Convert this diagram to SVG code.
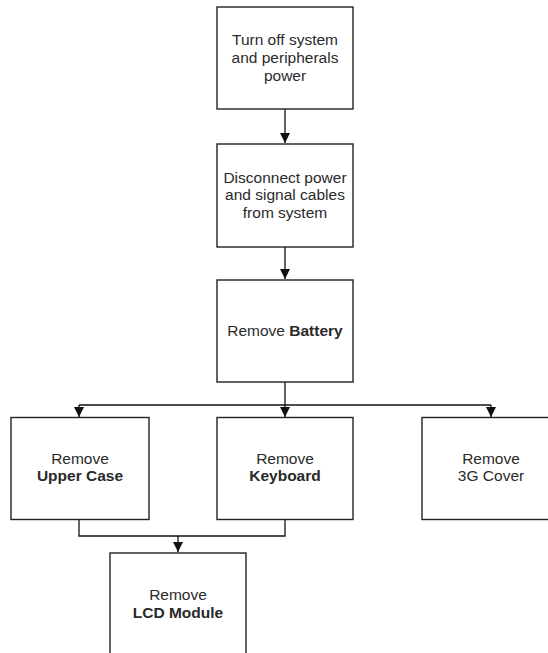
<svg xmlns="http://www.w3.org/2000/svg" width="548" height="653" viewBox="0 0 548 653">
<style>
.box{fill:#fff;stroke:#222;stroke-width:1.4}
.t{font-family:"Liberation Sans",Arial,sans-serif;font-size:15.5px;fill:#2a2a2a;text-anchor:middle}
.b{font-weight:bold}
.c{fill:none;stroke:#111;stroke-width:1.3}
</style>
<defs>
<marker id="ah" viewBox="0 0 10 10" refX="10" refY="5" markerWidth="10" markerHeight="10" markerUnits="userSpaceOnUse" orient="auto">
<path d="M0,0 L10,5 L0,10 Z" fill="#111"/>
</marker>
</defs>
<rect width="548" height="653" fill="#fff"/>
<g id="connectors">
<path class="c" d="M285,109 V143" marker-end="url(#ah)"/>
<path class="c" d="M285,247 V279" marker-end="url(#ah)"/>
<path class="c" d="M285,382 V405"/>
<path class="c" d="M79,405 H491"/>
<path class="c" d="M79,405 V417" marker-end="url(#ah)"/>
<path class="c" d="M285,405 V417" marker-end="url(#ah)"/>
<path class="c" d="M491,405 V417" marker-end="url(#ah)"/>
<path class="c" d="M79,519 V536 H285 V519"/>
<path class="c" d="M178,536 V552" marker-end="url(#ah)"/>
</g>
<g id="n1">
<rect class="box" x="217" y="7" width="136" height="102"/>
<text class="t" x="285" y="45">Turn off system</text>
<text class="t" x="285" y="63">and peripherals</text>
<text class="t" x="285" y="81">power</text>
</g>
<g id="n2">
<rect class="box" x="217" y="144" width="136" height="103"/>
<text class="t" x="285" y="182.5">Disconnect power</text>
<text class="t" x="285" y="200">and signal cables</text>
<text class="t" x="285" y="217.5">from system</text>
</g>
<g id="n3">
<rect class="box" x="217" y="280" width="136" height="102"/>
<text class="t" x="285" y="335.5">Remove <tspan class="b">Battery</tspan></text>
</g>
<g id="n4">
<rect class="box" x="11" y="417.5" width="138" height="102"/>
<text class="t" x="80" y="463.5">Remove</text>
<text class="t b" x="80" y="481">Upper Case</text>
</g>
<g id="n5">
<rect class="box" x="217" y="417.5" width="136" height="102"/>
<text class="t" x="285" y="463.5">Remove</text>
<text class="t b" x="285" y="481">Keyboard</text>
</g>
<g id="n6">
<rect class="box" x="422" y="417.5" width="138" height="102"/>
<text class="t" x="491" y="463.5">Remove</text>
<text class="t" x="491" y="481">3G Cover</text>
</g>
<g id="n7">
<rect class="box" x="110" y="553" width="136" height="110"/>
<text class="t" x="178" y="599.5">Remove</text>
<text class="t b" x="178" y="618">LCD Module</text>
</g>
</svg>
